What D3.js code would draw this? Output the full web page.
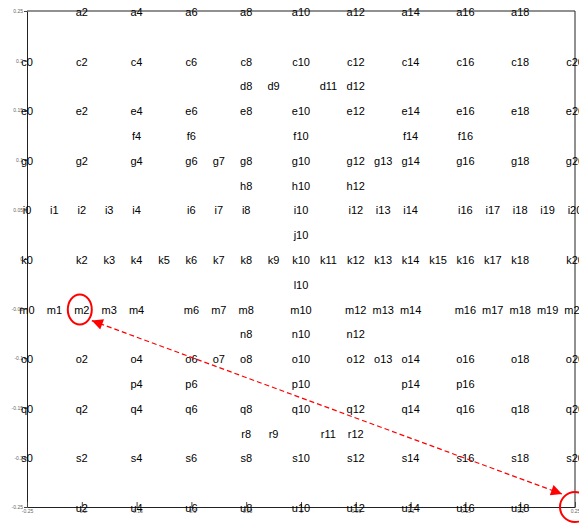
<!DOCTYPE html>
<html>
<head>
<meta charset="utf-8">
<script src="https://cdn.jsdelivr.net/npm/d3@7/dist/d3.min.js"></script>
<style>
  html, body { margin: 0; padding: 0; background: #fff; }
  svg { display: block; }
</style>
</head>
<body>
<svg id="chart" width="579" height="523"></svg>
<script>
// Row letters (top to bottom) and the columns that carry a label in each row
const rowLetters = ["a","b","c","d","e","f","g","h","i","j","k","l","m","n","o","p","q","r","s","t","u"];
const rowA = [2,4,6,8,10,12,14,16,18];
const rowC = [0,2,4,6,8,10,12,14,16,18,20];
const rowD = [8,9,11,12];
const rowE = [0,2,4,6,8,10,12,14,16,18,20];
const rowF = [4,6,10,14,16];
const rowG = [0,2,4,6,7,8,10,12,13,14,16,18,20];
const rowH = [8,10,12];
const rowI = [0,1,2,3,4,6,7,8,10,12,13,14,16,17,18,19,20];
const rowJ = [10];
const rowK = [0,2,3,4,5,6,7,8,9,10,11,12,13,14,15,16,17,18,20];
const rowL = [10];
const rowM = [0,1,2,3,4,6,7,8,10,12,13,14,16,17,18,19,20];
const rowN = [8,10,12];
const rowO = [0,2,4,6,7,8,10,12,13,14,16,18,20];
const rowP = [4,6,10,14,16];
const rowQ = [0,2,4,6,8,10,12,14,16,18,20];
const rowR = [8,9,11,12];
const rowS = [0,2,4,6,8,10,12,14,16,18,20];
const rowU = [2,4,6,8,10,12,14,16,18];
const rowCols = { a: rowA, c: rowC, d: rowD, e: rowE, f: rowF, g: rowG, h: rowH, i: rowI,
  j: rowJ, k: rowK, l: rowL, m: rowM, n: rowN, o: rowO, p: rowP, q: rowQ, r: rowR, s: rowS, u: rowU };

// Grid spacing in data units and axis ticks
const step = 0.025;
const xTicks = [-0.25,-0.2,-0.15,-0.1,-0.05,0,0.05,0.1,0.15,0.2,0.25];
const yTicks = [-0.25,-0.2,-0.15,-0.1,-0.05,0,0.05,0.1,0.15,0.2,0.25];

// Highlighted cells: the label "m2" and the lower-right corner point
const highlightFrom = { col: 2, row: "m" };
const highlightTo = { x: 0.25, y: -0.25 };

// Build the label records
const labels = [];
rowLetters.forEach((letter, ri) => {
  (rowCols[letter] || []).forEach(c => {
    labels.push({ text: letter + c, x: -0.25 + c * step, y: 0.25 - ri * step });
  });
});

const svg = d3.select("#chart");
const plot = { left: 27, right: 575, top: 11, bottom: 507 };
const x = d3.scaleLinear().domain([-0.25, 0.25]).range([plot.left, plot.right]);
const y = d3.scaleLinear().domain([-0.25, 0.25]).range([plot.bottom, plot.top]);

const fmt = v => String(+v.toFixed(2));

// Frame lines (top and right)
svg.append("line").attr("x1", plot.left).attr("x2", plot.right).attr("y1", plot.top).attr("y2", plot.top)
  .attr("stroke", "#222").attr("stroke-width", 1);
svg.append("line").attr("x1", plot.right).attr("x2", plot.right).attr("y1", plot.top).attr("y2", plot.bottom)
  .attr("stroke", "#222").attr("stroke-width", 1);

// Left axis
const gy = svg.append("g").attr("transform", `translate(${plot.left},0)`)
  .call(d3.axisLeft(y).tickValues(yTicks).tickFormat(fmt).tickSize(3).tickSizeOuter(0).tickPadding(1));
gy.selectAll("text").attr("font-size", 5).attr("fill", "#666").attr("font-family", "Liberation Sans, Arial, sans-serif");
gy.selectAll(".tick line").attr("stroke", "#444");
gy.select(".domain").attr("stroke", "#222");

// Bottom axis with inward ticks
const gx = svg.append("g").attr("transform", `translate(0,${plot.bottom})`)
  .call(d3.axisBottom(x).tickValues(xTicks).tickFormat(fmt).tickSize(-5).tickSizeOuter(0).tickPadding(2));
gx.selectAll("text").attr("font-size", 5).attr("fill", "#666").attr("font-family", "Liberation Sans, Arial, sans-serif");
gx.selectAll(".tick line").attr("stroke", "#444");
gx.select(".domain").attr("stroke", "#222");

// Grid labels
svg.append("g").selectAll("text").data(labels).join("text")
  .attr("x", d => x(d.x)).attr("y", d => y(d.y) + 1)
  .attr("text-anchor", "middle").attr("dominant-baseline", "central")
  .attr("font-family", "Liberation Sans, Arial, sans-serif").attr("font-size", 11)
  .attr("fill", "#000")
  .text(d => d.text);

// Highlight markers
const red = "#ff0000";
const fx = x(-0.25 + highlightFrom.col * step);
const fy = y(0.25 - rowLetters.indexOf(highlightFrom.row) * step);
const tx = x(highlightTo.x), ty = y(highlightTo.y);

svg.append("ellipse").attr("cx", fx - 2).attr("cy", fy + 1).attr("rx", 12).attr("ry", 15)
  .attr("fill", "none").attr("stroke", red).attr("stroke-width", 2);
svg.append("circle").attr("cx", tx).attr("cy", ty).attr("r", 15)
  .attr("fill", "none").attr("stroke", red).attr("stroke-width", 2);

// Double-headed dashed connector
const defs = svg.append("defs");
defs.append("marker").attr("id", "head").attr("viewBox", "0 0 10 10")
  .attr("refX", 10).attr("refY", 5).attr("markerWidth", 14).attr("markerHeight", 11)
  .attr("markerUnits", "userSpaceOnUse").attr("orient", "auto-start-reverse")
  .append("path").attr("d", "M0,0 L10,5 L0,10 Z").attr("fill", red);

svg.append("line")
  .attr("x1", fx + 10).attr("y1", fy + 12)
  .attr("x2", tx - 13).attr("y2", ty - 13)
  .attr("stroke", red).attr("stroke-width", 1.2).attr("stroke-dasharray", "5,3")
  .attr("marker-start", "url(#head)").attr("marker-end", "url(#head)");
</script>
</body>
</html>
